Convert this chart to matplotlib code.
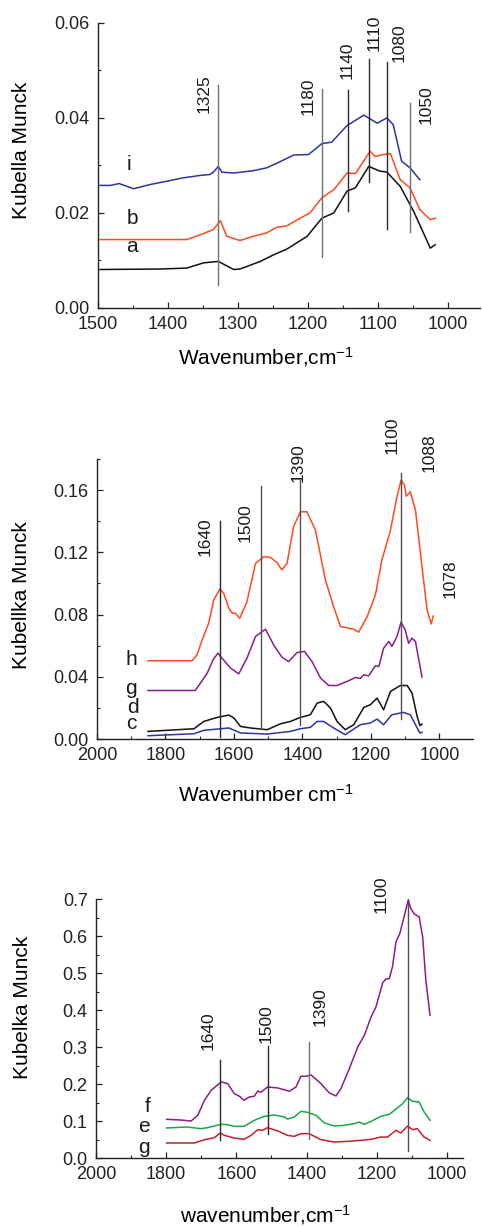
import matplotlib
matplotlib.use("Agg")
import matplotlib.pyplot as plt
from matplotlib.ticker import MultipleLocator, FormatStrFormatter

plt.rcParams["font.family"] = ["Liberation Sans", "DejaVu Sans"]
plt.rcParams["mathtext.fontset"] = "custom"
plt.rcParams["mathtext.rm"] = "Liberation Sans"
plt.rcParams["mathtext.it"] = "Liberation Sans:italic"
plt.rcParams["mathtext.default"] = "regular"

# ---------------- panel 1 data ----------------
P1_I_X = [1497, 1482, 1470, 1449, 1425, 1401, 1378, 1354, 1340, 1335, 1328, 1323, 1306, 1278,
          1259, 1244, 1220, 1199, 1180, 1166, 1144, 1120, 1101, 1087, 1078, 1066, 1054, 1040]
P1_I_Y = [0.0258, 0.0258, 0.0262, 0.0251, 0.0260, 0.0267, 0.0274, 0.0279, 0.0281, 0.0286, 0.0298,
          0.0286, 0.0284, 0.0289, 0.0295, 0.0305, 0.0322, 0.0323, 0.0346, 0.0349, 0.0384, 0.0406,
          0.0389, 0.0400, 0.0386, 0.0309, 0.0295, 0.0270]
P1_B_X = [1497, 1373, 1354, 1335, 1325, 1316, 1297, 1278, 1259, 1244, 1230, 1211, 1197, 1180,
          1163, 1144, 1132, 1111, 1104, 1092, 1082, 1068, 1054, 1040, 1025, 1018]
P1_B_Y = [0.0144, 0.0144, 0.0154, 0.0165, 0.0184, 0.0151, 0.0142, 0.0151, 0.0158, 0.0170, 0.0173,
          0.0189, 0.0200, 0.0232, 0.0249, 0.0284, 0.0283, 0.0330, 0.0319, 0.0323, 0.0325, 0.0270,
          0.0253, 0.0207, 0.0186, 0.0189]
P1_A_X = [1497, 1411, 1373, 1349, 1328, 1306, 1297, 1268, 1249, 1230, 1201, 1180, 1163, 1144,
          1132, 1113, 1097, 1087, 1068, 1049, 1037, 1025, 1018]
P1_A_Y = [0.0081, 0.0082, 0.0084, 0.0095, 0.0098, 0.0081, 0.0082, 0.0098, 0.0112, 0.0124, 0.0151,
          0.0189, 0.0200, 0.0246, 0.0253, 0.0298, 0.0288, 0.0286, 0.0256, 0.0204, 0.0165, 0.0126,
          0.0133]
P1_LINE_X = [1329, 1180, 1143, 1113, 1087, 1054]
P1_LINE_TOP = [0.0470, 0.0460, 0.0458, 0.0524, 0.0518, 0.0432]
P1_LINE_BOTTOM = [0.0049, 0.0107, 0.0204, 0.0265, 0.0167, 0.0160]
P1_PEAKS = ["1325", "1180", "1140", "1110", "1080", "1050"]
P1_CURVES = ["i", "b", "a"]

# ---------------- panel 2 data ----------------
P2_H_X = [1851, 1722, 1708, 1693, 1674, 1659, 1641, 1630, 1615, 1605, 1596, 1583, 1562, 1537,
          1513, 1494, 1474, 1460, 1445, 1426, 1406, 1387, 1362, 1333, 1309, 1289, 1250, 1236,
          1211, 1187, 1168, 1144, 1124, 1112, 1102, 1097, 1085, 1070, 1051, 1036, 1024, 1018]
P2_H_Y = [0.0503, 0.0503, 0.0541, 0.0637, 0.0744, 0.0894, 0.0965, 0.0937, 0.0841, 0.0809, 0.0809,
          0.0776, 0.0883, 0.1129, 0.1172, 0.1168, 0.1134, 0.1087, 0.1129, 0.1365, 0.1461, 0.1461,
          0.1343, 0.1022, 0.0851, 0.0723, 0.0706, 0.0687, 0.0787, 0.0926, 0.1151, 0.1333, 0.1557,
          0.1664, 0.1633, 0.1561, 0.1589, 0.1472, 0.1108, 0.0830, 0.0740, 0.0791]
P2_G_X = [1851, 1713, 1698, 1678, 1661, 1647, 1635, 1610, 1586, 1562, 1537, 1508, 1484, 1460,
          1440, 1416, 1394, 1372, 1347, 1323, 1299, 1270, 1245, 1231, 1221, 1207, 1187, 1177,
          1163, 1148, 1139, 1124, 1112, 1100, 1090, 1080, 1070, 1051]
P2_G_Y = [0.0312, 0.0312, 0.0359, 0.0424, 0.0509, 0.0552, 0.0520, 0.0456, 0.0419, 0.0520, 0.0659,
          0.0706, 0.0605, 0.0526, 0.0498, 0.0556, 0.0563, 0.0498, 0.0391, 0.0344, 0.0344, 0.0370,
          0.0396, 0.0389, 0.0413, 0.0406, 0.0471, 0.0466, 0.0584, 0.0627, 0.0595, 0.0659, 0.0751,
          0.0702, 0.0616, 0.0648, 0.0627, 0.0398]
P2_D_X = [1851, 1796, 1717, 1688, 1649, 1615, 1600, 1581, 1552, 1503, 1464, 1435, 1406, 1377,
          1357, 1338, 1318, 1299, 1275, 1250, 1221, 1202, 1182, 1163, 1143, 1114, 1094, 1080,
          1065, 1057, 1051]
P2_D_Y = [0.0049, 0.0056, 0.0066, 0.0113, 0.0139, 0.0154, 0.0135, 0.0081, 0.0071, 0.0060, 0.0098,
          0.0113, 0.0139, 0.0156, 0.0231, 0.0242, 0.0199, 0.0113, 0.0060, 0.0092, 0.0203, 0.0220,
          0.0263, 0.0188, 0.0306, 0.0344, 0.0344, 0.0295, 0.0145, 0.0086, 0.0096]
P2_C_X = [1851, 1717, 1688, 1615, 1581, 1503, 1435, 1406, 1377, 1357, 1338, 1309, 1275, 1231,
          1202, 1182, 1163, 1139, 1105, 1085, 1065, 1057, 1051]
P2_C_Y = [0.0021, 0.0034, 0.0056, 0.0071, 0.0039, 0.0032, 0.0049, 0.0066, 0.0075, 0.0113, 0.0113,
          0.0071, 0.0028, 0.0092, 0.0103, 0.0128, 0.0092, 0.0156, 0.0171, 0.0156, 0.0071, 0.0039,
          0.0043]
P2_LINE_X = [1641, 1521, 1408, 1111]
P2_LINE_TOP = [0.140, 0.1626, 0.1668, 0.1711]
P2_LINE_BOTTOM = [0.0013, 0.0064, 0.0092, 0.0128]
P2_PEAKS = ["1640", "1500", "1390", "1100", "1088", "1078"]
P2_CURVES = ["h", "g", "d", "c"]

# ---------------- panel 3 data ----------------
P3_F_X = [1799, 1759, 1729, 1710, 1691, 1672, 1643, 1625, 1606, 1591, 1578, 1563, 1549, 1539,
          1530, 1511, 1482, 1449, 1430, 1416, 1401, 1387, 1359, 1335, 1316, 1302, 1278, 1254,
          1235, 1216, 1202, 1183, 1174, 1164, 1155, 1145, 1134, 1122, 1110, 1103, 1093, 1079,
          1069, 1060, 1048]
P3_F_Y = [0.1046, 0.1028, 0.1001, 0.1155, 0.1561, 0.1831, 0.2057, 0.2012, 0.1741, 0.1669, 0.1561,
          0.1651, 0.1669, 0.1813, 0.1777, 0.1921, 0.1894, 0.1804, 0.1921, 0.2210, 0.2210, 0.2246,
          0.2012, 0.1759, 0.1678, 0.1876, 0.2417, 0.3004, 0.3320, 0.3816, 0.4086, 0.4736, 0.4835,
          0.4853, 0.5169, 0.5845, 0.6071, 0.6522, 0.6973, 0.6748, 0.6594, 0.6522, 0.5981, 0.4808,
          0.3861]
P3_E_X = [1799, 1739, 1701, 1682, 1644, 1625, 1606, 1578, 1549, 1520, 1492, 1463, 1454, 1435,
          1416, 1397, 1373, 1349, 1321, 1292, 1264, 1250, 1235, 1216, 1188, 1164, 1140, 1126,
          1112, 1098, 1079, 1065, 1048]
P3_E_Y = [0.0812, 0.0839, 0.0794, 0.0821, 0.0911, 0.0902, 0.0857, 0.0857, 0.1019, 0.1128, 0.1164,
          0.1109, 0.1055, 0.1109, 0.1263, 0.1236, 0.1155, 0.0947, 0.0866, 0.0884, 0.0929, 0.0974,
          0.0911, 0.0992, 0.1128, 0.1182, 0.1362, 0.1470, 0.1633, 0.1533, 0.1515, 0.1245, 0.1019]
P3_G_X = [1799, 1720, 1691, 1663, 1646, 1634, 1606, 1578, 1558, 1539, 1525, 1511, 1482, 1454,
          1435, 1416, 1392, 1359, 1321, 1283, 1245, 1216, 1188, 1169, 1145, 1131, 1112, 1098,
          1084, 1065, 1048]
P3_G_Y = [0.0406, 0.0406, 0.0496, 0.0550, 0.0677, 0.0613, 0.0541, 0.0505, 0.0613, 0.0767, 0.0749,
          0.0821, 0.0731, 0.0613, 0.0586, 0.0658, 0.0658, 0.0496, 0.0433, 0.0451, 0.0478, 0.0505,
          0.0568, 0.0568, 0.0749, 0.0677, 0.0866, 0.0767, 0.0794, 0.0568, 0.0478]
P3_LINE_X = [1646, 1509, 1394, 1110]
P3_LINE_TOP = [0.2643, 0.3031, 0.3139, 0.7586]
P3_LINE_BOTTOM = [0.0478, 0.0658, 0.0523, 0.0180]
P3_PEAKS = ["1640", "1500", "1390", "1100"]
P3_CURVES = ["f", "e", "g"]

# ---------------- layout / style ----------------
BLUE = "#2a35a0"
ORANGE = "#ff4a1c"
BLACK = "#111111"
PURPLE = "#8c1c8c"
GREEN = "#18a84a"
RED = "#c81e2c"
GRAY = "#707070"
DARK = "#2a2a2a"

P1_LINE_COLORS = [GRAY, GRAY, DARK, DARK, DARK, GRAY]
P2_LINE_COLORS = [DARK, "#505050", "#505050", "#505050"]
P3_LINE_COLORS = [DARK, DARK, GRAY, "#505050"]
P1_PEAK_POS = [(1349, 0.0451), (1199, 0.0446), (1144, 0.0521), (1106, 0.0579), (1069, 0.0559), (1031, 0.0429)]
P2_PEAK_POS = [(1683, 0.130), (1566, 0.139), (1413, 0.1775), (1138, 0.195), (1031, 0.184), (968, 0.1033)]
P3_PEAK_POS = [(1680, 0.3437), (1514, 0.3635), (1361, 0.4086), (1188, 0.7135)]
P1_CURVE_POS = [(1456, 0.0302), (1451, 0.0189), (1451, 0.0130)]
P2_CURVE_POS = [(1899, 0.0513), (1902, 0.0327), (1895, 0.0205), (1899, 0.0098)]
P3_CURVE_POS = [(1853, 0.1398), (1862, 0.0857), (1862, 0.0298)]

TICK_FS = 13
PEAK_FS = 12.5
LETTER_FS = 15
LABEL_FS = 15


def style_axes(ax, xlim, ylim, xmaj, xmin, ymaj, ymin, yfmt):
    ax.set_xlim(*xlim)
    ax.set_ylim(*ylim)
    for side in ("top", "right"):
        ax.spines[side].set_visible(False)
    for side in ("left", "bottom"):
        ax.spines[side].set_linewidth(1.0)
        ax.spines[side].set_color("#222222")
    ax.xaxis.set_major_locator(MultipleLocator(xmaj))
    ax.xaxis.set_minor_locator(MultipleLocator(xmin))
    ax.yaxis.set_major_locator(MultipleLocator(ymaj))
    ax.yaxis.set_minor_locator(MultipleLocator(ymin))
    ax.yaxis.set_major_formatter(FormatStrFormatter(yfmt))
    ax.tick_params(which="major", direction="in", length=4.5, width=0.9,
                   labelsize=TICK_FS, pad=6, colors="#222222")
    ax.tick_params(which="minor", direction="in", length=2.5, width=0.8, colors="#222222")
    ax.patch.set_alpha(0)


def draw_peaks(ax, xs, tops, bottoms, colors, labels, positions):
    for x, y1, y0, c in zip(xs, tops, bottoms, colors):
        ax.plot([x, x], [y0, y1], color=c, linewidth=1.0, zorder=3)
    for lab, (px, py) in zip(labels, positions):
        ax.text(px, py, lab, rotation=90, ha="center", va="center",
                fontsize=PEAK_FS, color="#1a1a1a", clip_on=False)


def draw_letters(ax, letters, positions):
    for lab, (px, py) in zip(letters, positions):
        ax.text(px, py, lab, ha="center", va="center", fontsize=LETTER_FS, color="#1a1a1a")


fig = plt.figure(figsize=(4.82, 12.27), dpi=100)

# panel 1
ax1 = fig.add_axes([0.2033, 0.7490, 0.7925, 0.2323])
ax1.plot(P1_I_X, P1_I_Y, color=BLUE, linewidth=1.1)
ax1.plot(P1_B_X, P1_B_Y, color=ORANGE, linewidth=1.1)
ax1.plot(P1_A_X, P1_A_Y, color=BLACK, linewidth=1.1)
draw_peaks(ax1, P1_LINE_X, P1_LINE_TOP, P1_LINE_BOTTOM, P1_LINE_COLORS, P1_PEAKS, P1_PEAK_POS)
draw_letters(ax1, P1_CURVES, P1_CURVE_POS)
style_axes(ax1, (1500, 954), (0, 0.06), 100, 50, 0.02, 0.01, "%.2f")
ax1.set_xlabel("Wavenumber,cm$^{-1}$", fontsize=LABEL_FS, va="center")
ax1.xaxis.set_label_coords(0.44, -0.172)
ax1.set_ylabel("Kubella Munck", fontsize=LABEL_FS, va="center")
ax1.yaxis.set_label_coords(-0.199, 0.554)

# panel 2
ax2 = fig.add_axes([0.2012, 0.3977, 0.7801, 0.2282])
ax2.plot(P2_H_X, P2_H_Y, color=ORANGE, linewidth=1.1)
ax2.plot(P2_G_X, P2_G_Y, color=PURPLE, linewidth=1.1)
ax2.plot(P2_D_X, P2_D_Y, color=BLACK, linewidth=1.1)
ax2.plot(P2_C_X, P2_C_Y, color=BLUE, linewidth=1.1)
draw_peaks(ax2, P2_LINE_X, P2_LINE_TOP, P2_LINE_BOTTOM, P2_LINE_COLORS, P2_PEAKS, P2_PEAK_POS)
draw_letters(ax2, P2_CURVES, P2_CURVE_POS)
style_axes(ax2, (2000, 902), (0, 0.18), 200, 100, 0.04, 0.02, "%.2f")
ax2.set_xlabel("Wavenumber cm$^{-1}$", fontsize=LABEL_FS, va="center")
ax2.xaxis.set_label_coords(0.45, -0.2)
ax2.set_ylabel("Kubellka Munck", fontsize=LABEL_FS, va="center")
ax2.yaxis.set_label_coords(-0.2, 0.514)

# panel 3
ax3 = fig.add_axes([0.1992, 0.0562, 0.7614, 0.2111])
ax3.plot(P3_F_X, P3_F_Y, color=PURPLE, linewidth=1.1)
ax3.plot(P3_E_X, P3_E_Y, color=GREEN, linewidth=1.1)
ax3.plot(P3_G_X, P3_G_Y, color=RED, linewidth=1.1)
draw_peaks(ax3, P3_LINE_X, P3_LINE_TOP, P3_LINE_BOTTOM, P3_LINE_COLORS, P3_PEAKS, P3_PEAK_POS)
draw_letters(ax3, P3_CURVES, P3_CURVE_POS)
style_axes(ax3, (2000, 954), (0, 0.7), 200, 100, 0.1, 0.05, "%.1f")
ax3.set_xlabel("wavenumber,cm$^{-1}$", fontsize=LABEL_FS, va="center")
ax3.xaxis.set_label_coords(0.463, -0.22)
ax3.set_ylabel("Kubelka Munck", fontsize=LABEL_FS, va="center")
ax3.yaxis.set_label_coords(-0.2, 0.583)

fig.savefig("out.png", dpi=100)
